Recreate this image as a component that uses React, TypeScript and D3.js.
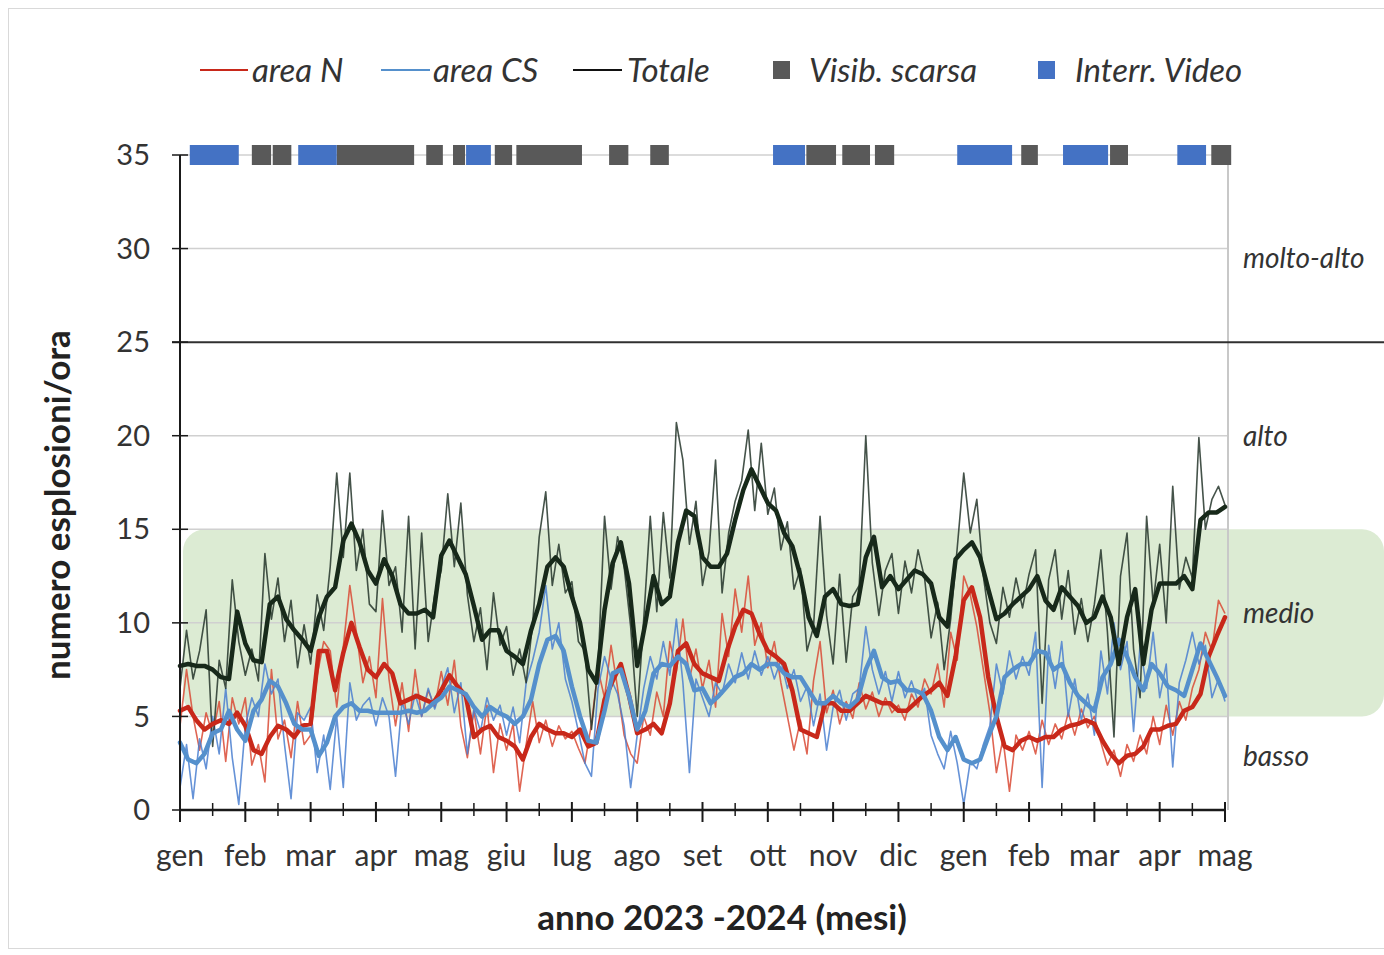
import * as d3 from 'd3'

const months = ['gen', 'feb', 'mar', 'apr', 'mag', 'giu', 'lug', 'ago', 'set', 'ott', 'nov', 'dic', 'gen', 'feb', 'mar', 'apr', 'mag']
const yTicks = [0, 5, 10, 15, 20, 25, 30, 35]

// medie mobili, un valore ogni 1/8 di mese
const totaleMedia = [
  7.7, 7.8, 7.7, 7.7, 7.5, 7.1, 7.0, 10.6, 8.9, 8.0, 7.9, 11.0, 11.4, 10.2, 9.6, 9.1,
  8.5, 10.3, 11.4, 11.9, 14.4, 15.3, 14.3, 12.8, 12.1, 13.4, 12.5, 11.0, 10.5, 10.5, 10.7, 10.3,
  13.6, 14.4, 13.5, 12.6, 10.9, 9.1, 9.6, 9.6, 8.5, 8.2, 7.8, 9.6, 11.0, 13.0, 13.5, 13.0,
  11.4, 10.0, 7.5, 6.8, 10.7, 13.2, 14.3, 12.1, 7.7, 10.0, 12.5, 11.0, 11.4, 14.3, 16.0, 15.7,
  13.5, 13.0, 13.0, 13.7, 15.5, 17.1, 18.2, 17.3, 16.4, 16.0, 14.8, 14.1, 12.5, 10.3, 9.3, 11.4,
  11.8, 11.0, 10.9, 11.0, 13.5, 14.6, 11.9, 12.5, 11.8, 12.3, 12.8, 12.6, 12.1, 10.3, 9.8, 13.4,
  13.9, 14.3, 13.5, 11.8, 10.2, 10.5, 11.0, 11.4, 11.8, 12.5, 11.2, 10.7, 11.9, 11.4, 10.9, 10.0,
  10.3, 11.4, 10.3, 7.8, 10.3, 11.8, 7.8, 10.7, 12.1, 12.1, 12.1, 12.5, 11.8, 15.5, 15.9, 15.9,
  16.2,
]
const areaNMedia = [
  5.3, 5.5, 4.8, 4.3, 4.6, 4.8, 4.6, 5.2, 4.5, 3.2, 3.0, 3.9, 4.5, 4.3, 3.9, 4.5,
  4.6, 8.5, 8.5, 6.4, 8.4, 10.0, 8.7, 7.5, 7.1, 7.8, 7.3, 5.7, 5.9, 6.1, 5.9, 5.7,
  6.4, 7.2, 6.6, 6.1, 3.9, 4.3, 4.5, 3.9, 3.7, 3.4, 2.7, 3.9, 4.6, 4.3, 4.1, 4.1,
  3.9, 4.3, 3.4, 3.6, 5.9, 6.9, 7.8, 6.1, 4.1, 4.3, 4.6, 4.1, 5.7, 8.5, 8.9, 7.8,
  7.3, 7.1, 6.9, 8.5, 9.8, 10.7, 10.5, 9.4, 8.5, 8.2, 7.8, 6.4, 4.3, 4.1, 3.9, 5.7,
  5.7, 5.3, 5.3, 5.7, 6.1, 5.9, 5.7, 5.7, 5.3, 5.3, 5.7, 6.1, 6.4, 6.8, 6.1, 8.2,
  11.2, 11.9, 10.3, 7.1, 5.0, 3.4, 3.2, 3.7, 3.9, 3.7, 3.9, 3.9, 4.3, 4.5, 4.6, 4.8,
  4.6, 3.7, 3.0, 2.5, 2.9, 3.0, 3.4, 4.3, 4.3, 4.5, 4.6, 5.3, 5.5, 6.2, 8.2, 9.3,
  10.3,
]
const areaCSMedia = [
  3.6, 2.7, 2.5, 3.0, 4.1, 4.3, 5.3, 4.3, 3.7, 5.3, 5.9, 6.9, 6.6, 5.7, 4.6, 4.3,
  4.3, 2.9, 3.6, 5.0, 5.5, 5.7, 5.3, 5.3, 5.2, 5.2, 5.2, 5.2, 5.3, 5.2, 5.3, 5.7,
  6.0, 6.6, 6.4, 6.2, 5.5, 5.0, 5.5, 5.2, 5.0, 4.6, 5.0, 5.9, 7.8, 9.1, 9.3, 8.5,
  6.6, 5.0, 3.7, 3.6, 5.3, 7.3, 7.5, 6.1, 4.3, 5.3, 7.3, 7.8, 7.7, 8.2, 7.8, 6.4,
  6.5, 5.7, 6.1, 6.6, 7.1, 7.3, 7.8, 7.5, 7.8, 7.8, 7.3, 7.1, 7.1, 6.4, 5.7, 5.7,
  6.1, 5.7, 5.5, 5.9, 7.5, 8.5, 7.1, 6.8, 6.9, 6.4, 6.4, 6.2, 5.3, 3.9, 3.2, 3.9,
  2.7, 2.5, 2.7, 3.9, 5.0, 7.1, 7.5, 7.8, 7.8, 8.5, 8.4, 7.5, 7.8, 6.8, 6.1, 5.7,
  5.3, 7.1, 7.8, 9.1, 8.2, 7.1, 6.4, 7.8, 7.3, 6.6, 6.4, 6.1, 7.5, 8.9, 8.0, 7.1,
  6.1,
]

// valori giornalieri, un valore ogni 1/10 di mese
const totaleGiorno = [
  6.5, 9.6, 7.0, 8.5, 10.7, 3.4, 8.0, 6.5, 12.3, 9.0,
  7.2, 8.6, 6.9, 13.7, 10.2, 12.4, 9.0, 11.2, 7.6, 9.9,
  7.8, 11.5, 9.6, 13.0, 18.0, 13.5, 18.0, 12.8, 15.0, 11.0,
  10.6, 16.0, 12.0, 13.0, 9.5, 15.7, 8.6, 14.8, 9.0, 11.5,
  12.8, 16.9, 13.0, 16.4, 11.5, 9.0, 10.8, 7.5, 11.6, 8.8,
  9.8, 7.2, 8.6, 6.8, 10.0, 14.6, 17.0, 12.0, 14.2, 11.6,
  12.2, 9.0, 8.5, 4.3, 7.6, 15.7, 11.8, 14.6, 13.0, 9.8,
  5.0, 10.2, 15.7, 10.6, 15.9, 12.4, 20.7, 18.7, 14.2, 16.5,
  12.0, 13.8, 18.7, 11.6, 14.8, 16.5, 17.6, 20.3, 16.0, 19.6,
  15.8, 17.2, 13.9, 15.4, 11.8, 12.9, 8.5, 9.8, 15.7, 10.4,
  7.8, 12.6, 7.9, 11.4, 12.0, 20.0, 13.2, 10.4, 12.8, 13.7,
  10.5, 13.3, 11.6, 13.9, 12.4, 9.2, 11.1, 7.5, 10.2, 14.0,
  18.0, 14.8, 16.6, 12.5, 10.0, 8.9, 11.9, 10.3, 12.4, 10.8,
  12.6, 13.9, 5.7, 12.3, 13.9, 10.2, 12.8, 9.4, 11.3, 9.0,
  11.0, 13.9, 9.5, 3.9, 12.5, 14.8, 8.6, 6.0, 15.7, 11.0,
  14.2, 10.0, 17.3, 11.8, 13.5, 12.4, 19.9, 15.0, 16.6, 17.3,
  16.3,
]
const areaNGiorno = [
  4.5, 7.5, 5.0, 3.2, 5.2, 4.0, 5.8, 2.6, 6.0, 4.6,
  6.0, 2.4, 3.5, 1.5, 7.5, 3.8, 4.8, 2.8, 5.8, 3.5,
  4.0, 7.2, 9.0, 8.5, 5.5, 8.7, 12.0, 9.5, 6.8, 8.2,
  6.0, 11.3, 7.0, 4.5, 6.8, 4.2, 7.5, 5.0, 6.4, 5.5,
  7.4, 5.6, 8.0, 4.5, 2.8, 5.3, 3.0, 5.6, 2.0, 4.6,
  3.2, 4.6, 1.0, 3.5, 5.8, 3.6, 4.8, 3.4, 4.5, 3.8,
  4.2, 3.3, 2.5, 4.6, 7.5, 6.0, 8.8, 6.5, 4.0, 3.0,
  2.5, 5.0, 4.0, 6.3, 5.0, 9.0, 7.4, 10.2, 7.0, 8.6,
  6.5, 8.0, 5.5, 10.5, 8.2, 11.8, 9.5, 12.5, 8.8, 10.0,
  7.6, 9.0, 6.8, 5.0, 3.2, 4.8, 3.0, 6.9, 9.0, 5.2,
  6.4, 4.6, 5.8, 4.9, 6.8, 5.4, 6.3, 5.0, 6.0, 5.2,
  5.6, 4.8, 6.2, 5.5, 7.0, 6.2, 7.8, 5.5, 9.5, 8.0,
  12.5, 11.5, 9.8, 7.5, 5.2, 2.0, 3.8, 1.0, 4.0, 3.2,
  4.2, 3.0, 4.8, 3.5, 4.6, 3.8, 5.2, 4.0, 5.4, 4.4,
  5.0, 3.6, 2.4, 3.2, 1.8, 3.5, 2.6, 4.0, 3.0, 5.0,
  3.5, 5.6, 4.0, 5.8, 4.8, 6.5, 7.5, 9.5, 8.5, 11.2,
  10.5,
]
const areaCSGiorno = [
  1.2, 3.5, 0.6, 3.8, 2.2, 5.0, 3.0, 6.5, 2.8, 0.3,
  4.5, 6.0, 5.0, 7.8, 6.2, 7.0, 3.5, 0.6, 5.2, 4.8,
  5.5, 2.0, 4.0, 1.1, 5.0, 1.2, 6.8, 4.8, 5.6, 6.0,
  4.5, 6.0, 5.0, 1.8, 5.8, 4.6, 6.2, 5.0, 6.5, 5.4,
  6.5, 7.6, 5.2, 6.8, 3.0, 5.4, 4.2, 6.0, 4.8, 5.6,
  4.0, 5.5, 3.6, 6.8, 8.0, 9.5, 12.0, 8.6, 10.0, 7.0,
  5.8, 4.2, 2.5, 1.8, 6.5, 8.2, 7.0, 6.2, 4.5, 1.2,
  4.0, 6.5, 8.2, 7.0, 9.0, 7.2, 10.2, 6.8, 2.0, 7.0,
  6.0, 5.0, 6.8, 6.2, 7.8, 6.8, 8.4, 7.0, 8.5, 7.2,
  8.2, 7.0, 8.0, 6.5, 7.5, 5.8, 6.6, 4.5, 6.2, 3.2,
  5.5, 6.4, 4.8, 6.2, 6.5, 9.8, 7.5, 6.2, 7.4, 5.8,
  7.4, 6.0, 6.9, 5.8, 6.5, 4.0, 3.0, 2.2, 4.2, 2.5,
  0.3, 2.6, 2.2, 3.5, 4.5, 7.8, 6.2, 8.5, 7.0, 8.2,
  7.2, 9.5, 1.2, 8.8, 6.5, 9.0, 5.0, 7.0, 4.8, 6.2,
  4.0, 8.5, 6.2, 10.0, 7.5, 9.0, 4.2, 8.8, 6.5, 9.5,
  6.0, 7.8, 2.3, 6.8, 8.0, 9.5, 7.8, 8.8, 6.0, 7.0,
  5.8,
]

// periodi (in mesi dall'inizio) di visibilità scarsa e interruzione video
const visibScarsa = [
  [1.1, 1.41], [1.42, 1.72], [2.4, 3.6], [3.77, 4.04], [4.18, 4.38], [4.82, 5.1], [5.15, 6.17],
  [6.57, 6.88], [7.2, 7.5], [9.59, 10.06], [10.14, 10.58], [10.64, 10.95], [12.88, 13.15],
  [14.24, 14.53], [15.79, 16.11],
]
const interrVideo = [
  [0.15, 0.9], [1.81, 2.4], [4.38, 4.76], [9.08, 9.57], [11.9, 12.74], [13.52, 14.21], [15.27, 15.71],
]

const levels = [
  { label: 'molto-alto', value: 29.5 },
  { label: 'alto', value: 20 },
  { label: 'medio', value: 10.5 },
  { label: 'basso', value: 2.9 },
]

const FONT = 'Lato, "Open Sans", sans-serif'
const RED = '#c8281a'
const RED_THIN = '#d94a35'
const BLUE = '#5590cc'
const BLUE_THIN = '#4a7fd0'
const BLACK = '#17291a'
const BLACK_THIN = '#24352a'
const GRAY_BOX = '#595959'
const BLUE_BOX = '#4472c4'

const App = () => {
  const x = d3.scaleLinear().domain([0, 16]).range([180, 1225])
  const y = d3.scaleLinear().domain([0, 35]).range([810, 155])

  const lineStep = (step: number) =>
    d3
      .line<number>()
      .x((_, i) => x(i * step))
      .y((d) => y(d))

  const media = lineStep(1 / 8)
  const giorno = lineStep(1 / 10)

  const majorTicks = d3.range(0, 17)
  const minorTicks = d3.range(0.5, 16, 1)

  const legendY = 70

  return (
    <svg
      width={1384}
      height={955}
      style={{ position: 'absolute', left: 0, top: 0, background: '#fff', fontFamily: FONT }}
    >
      <rect x={8.5} y={8.5} width={1400} height={940} fill="#fff" stroke="#d9d9d9" />

      {/* fascia "medio" */}
      <rect x={183} y={y(15)} width={1201} height={y(5) - y(15)} rx={22} fill="#dcebd3" />

      {/* griglia */}
      {yTicks
        .filter((t) => t !== 0 && t !== 25)
        .map((t) => (
          <line key={t} x1={x(0)} x2={1228} y1={y(t)} y2={y(t)} stroke="#d0d0d0" strokeWidth={1.5} />
        ))}
      <line x1={1228} x2={1228} y1={y(35)} y2={y(0)} stroke="#c8c8c8" strokeWidth={2} />
      <line x1={172} x2={1384} y1={y(25)} y2={y(25)} stroke="#303030" strokeWidth={2} />

      {/* serie giornaliere */}
      <g fill="none" strokeLinejoin="round">
        <path d={giorno(areaNGiorno) ?? ''} stroke={RED_THIN} strokeWidth={1.6} opacity={0.85} />
        <path d={giorno(areaCSGiorno) ?? ''} stroke={BLUE_THIN} strokeWidth={1.6} opacity={0.85} />
        <path d={giorno(totaleGiorno) ?? ''} stroke={BLACK_THIN} strokeWidth={1.6} opacity={0.85} />
      </g>
      {/* medie mobili */}
      <g fill="none" strokeLinejoin="round" strokeLinecap="round">
        <path d={media(areaNMedia) ?? ''} stroke={RED} strokeWidth={4.5} />
        <path d={media(areaCSMedia) ?? ''} stroke={BLUE} strokeWidth={4.5} />
        <path d={media(totaleMedia) ?? ''} stroke={BLACK} strokeWidth={4.5} />
      </g>

      {/* periodi a 35 */}
      {visibScarsa.map(([a, b], i) => (
        <rect key={'v' + i} x={x(a)} y={y(35) - 10} width={x(b) - x(a) - 1} height={20} fill={GRAY_BOX} />
      ))}
      {interrVideo.map(([a, b], i) => (
        <rect key={'i' + i} x={x(a)} y={y(35) - 10} width={x(b) - x(a)} height={20} fill={BLUE_BOX} />
      ))}

      {/* asse y */}
      <line x1={x(0)} x2={x(0)} y1={y(35)} y2={y(0)} stroke="#1a1a1a" strokeWidth={2} />
      {yTicks.map((t) => (
        <g key={t}>
          <line x1={172} x2={188} y1={y(t)} y2={y(t)} stroke="#1a1a1a" strokeWidth={1.5} />
          <text x={150} y={y(t)} dy="0.35em" textAnchor="end" fontSize={29} fill="#333">
            {t}
          </text>
        </g>
      ))}

      {/* asse x */}
      <line x1={x(0)} x2={x(16)} y1={y(0)} y2={y(0)} stroke="#1a1a1a" strokeWidth={2.5} />
      {majorTicks.map((m) => (
        <g key={m}>
          <line x1={x(m)} x2={x(m)} y1={y(0) - 8} y2={y(0) + 12} stroke="#1a1a1a" strokeWidth={2} />
          <text x={x(m)} y={866} textAnchor="middle" fontSize={30} fill="#333">
            {months[m]}
          </text>
        </g>
      ))}
      {minorTicks.map((m) => (
        <line key={m} x1={x(m)} x2={x(m)} y1={y(0) - 7} y2={y(0) + 6} stroke="#1a1a1a" strokeWidth={1.5} />
      ))}

      {/* etichette livelli */}
      {levels.map((l) => (
        <text key={l.label} x={1243} y={y(l.value)} dy="0.35em" fontSize={28} fontStyle="italic" fill="#333">
          {l.label}
        </text>
      ))}

      {/* titoli */}
      <text x={722} y={930} textAnchor="middle" fontSize={35} fontWeight="bold" fill="#222">
        anno 2023 -2024 (mesi)
      </text>
      <text
        transform={`translate(70, ${505}) rotate(-90)`}
        textAnchor="middle"
        fontSize={35}
        fontWeight="bold"
        fill="#222"
      >
        numero esplosioni/ora
      </text>

      {/* legenda */}
      <g fontSize={33} fontStyle="italic" fill="#333">
        <line x1={200} x2={248} y1={legendY} y2={legendY} stroke={RED} strokeWidth={2} />
        <text x={252} y={legendY} dy="0.35em">area N</text>
        <line x1={381} x2={430} y1={legendY} y2={legendY} stroke={BLUE} strokeWidth={2} />
        <text x={433} y={legendY} dy="0.35em">area CS</text>
        <line x1={573} x2={622} y1={legendY} y2={legendY} stroke="#111" strokeWidth={2} />
        <text x={627} y={legendY} dy="0.35em">Totale</text>
        <rect x={773} y={legendY - 9} width={17} height={18} fill={GRAY_BOX} />
        <text x={809} y={legendY} dy="0.35em">Visib. scarsa</text>
        <rect x={1038} y={legendY - 9} width={17} height={18} fill={BLUE_BOX} />
        <text x={1075} y={legendY} dy="0.35em">Interr. Video</text>
      </g>
    </svg>
  )
}

export default App
